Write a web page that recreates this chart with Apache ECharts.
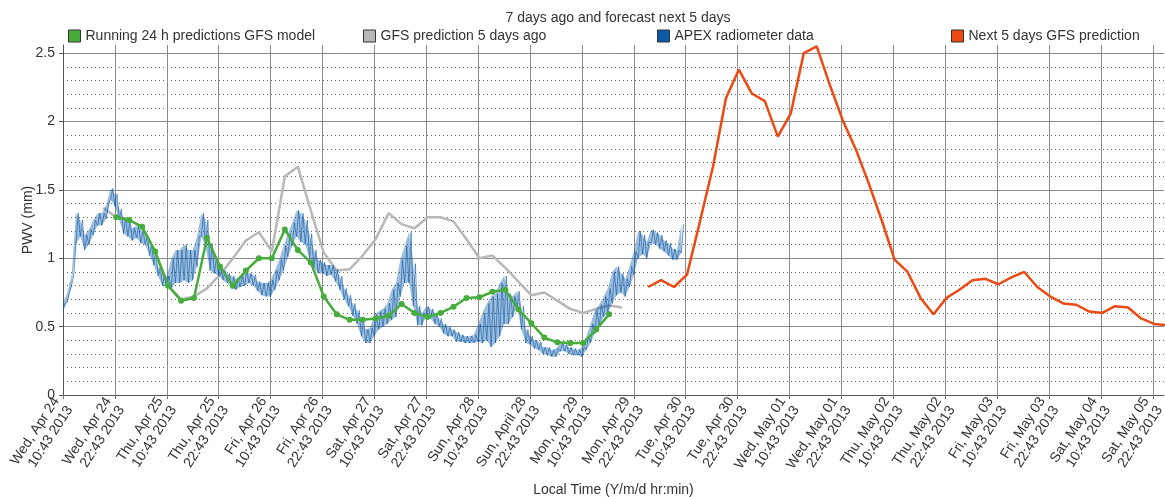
<!DOCTYPE html>
<html>
<head>
<meta charset="utf-8">
<title>PWV</title>
<script src="https://cdn.jsdelivr.net/npm/echarts@6.0.0/dist/echarts.min.js"></script>
<style>
  html, body { margin: 0; padding: 0; background: #fff; }
  #pwv { width: 1165px; height: 497px; }
</style>
</head>
<body>
<div id="pwv"></div>
<script>
// x values are hours since Wed Apr 24 10:43 2013
var xLabels = [
  'Wed, Apr 24\n10:43 2013', 'Wed, Apr 24\n22:43 2013',
  'Thu, Apr 25\n10:43 2013', 'Thu, Apr 25\n22:43 2013',
  'Fri, Apr 26\n10:43 2013', 'Fri, Apr 26\n22:43 2013',
  'Sat, Apr 27\n10:43 2013', 'Sat, Apr 27\n22:43 2013',
  'Sun, Apr 28\n10:43 2013', 'Sun, April 28\n22:43 2013',
  'Mon, Apr 29\n10:43 2013', 'Mon, Apr 29\n22:43 2013',
  'Tue, Apr 30\n10:43 2013', 'Tue, Apr 30\n22:43 2013',
  'Wed, May 01\n10:43 2013', 'Wed, May 01\n22:43 2013',
  'Thu, May 02\n10:43 2013', 'Thu, May 02\n22:43 2013',
  'Fri, May 03\n10:43 2013', 'Fri, May 03\n22:43 2013',
  'Sat, May 04\n10:43 2013', 'Sat, May 05\n22:43 2013'
]

// running 24 h predictions GFS model
var runHours = [12.3, 15.3, 18.3, 21.3, 24.3, 27.3, 30.3, 33.3, 36.3, 39.3,
  42.3, 45.3, 48.3, 51.3, 54.3, 57.3, 60.3, 63.3, 66.3, 69.3,
  72.3, 75.3, 78.3, 81.3, 84.3, 87.3, 90.3, 93.3, 96.3, 99.3,
  102.3, 105.3, 108.3, 111.3, 114.3, 117.3, 120.3, 123.3, 126.3]
var runPwv = [1.30, 1.28, 1.23, 1.05, 0.80, 0.69, 0.71, 1.15, 0.94, 0.80,
  0.91, 1.00, 1.00, 1.21, 1.06, 0.97, 0.72, 0.59, 0.55, 0.55,
  0.56, 0.58, 0.665, 0.60, 0.57, 0.60, 0.645, 0.71, 0.715, 0.755,
  0.77, 0.625, 0.525, 0.42, 0.385, 0.38, 0.38, 0.48, 0.59]

// GFS prediction made 5 days ago
var oldHours = [9.3, 12.3, 15.3, 18.3, 21.3, 24.3, 27.3, 30.3, 33.3, 36.3,
  39.3, 42.3, 45.3, 48.3, 51.3, 54.3, 57.3, 60.3, 63.3, 66.3,
  69.3, 72.3, 75.3, 78.3, 81.3, 84.3, 87.3, 90.3, 93.3, 96.3,
  99.3, 102.3, 105.3, 108.3, 111.3, 114.3, 117.3, 120.3, 123.3, 126.3, 129.3]
var oldPwv = [1.37, 1.30, 1.28, 1.23, 1.05, 0.80, 0.70, 0.72, 0.78, 0.88,
  1.00, 1.13, 1.19, 1.05, 1.60, 1.67, 1.35, 1.04, 0.91, 0.92,
  1.02, 1.14, 1.33, 1.25, 1.22, 1.30, 1.30, 1.27, 1.14, 1.00,
  1.02, 0.93, 0.83, 0.73, 0.75, 0.69, 0.63, 0.60, 0.63, 0.655, 0.64]

// APEX radiometer, hourly low / high of the scatter (hour = index)
var apexLow = [0.62, 0.68, 0.80, 1.10, 1.16, 1.06, 1.10, 1.17, 1.24, 1.24,
  1.29, 1.43, 1.38, 1.28, 1.18, 1.16, 1.13, 1.15, 1.11, 1.10,
  1.02, 0.95, 0.87, 0.80, 0.79, 0.77, 0.82, 0.82, 0.84, 0.82,
  0.84, 0.94, 1.16, 1.08, 0.91, 0.89, 0.87, 0.84, 0.82, 0.78,
  0.77, 0.79, 0.80, 0.82, 0.80, 0.76, 0.73, 0.72, 0.72, 0.77,
  0.84, 0.91, 1.01, 1.09, 1.16, 1.12, 1.10, 1.00, 0.93, 0.89,
  0.89, 0.87, 0.88, 0.83, 0.77, 0.70, 0.65, 0.58, 0.52, 0.43,
  0.38, 0.38, 0.43, 0.48, 0.50, 0.52, 0.55, 0.57, 0.72, 0.82,
  0.82, 0.65, 0.51, 0.51, 0.57, 0.56, 0.52, 0.50, 0.45, 0.43,
  0.43, 0.39, 0.39, 0.38, 0.38, 0.38, 0.39, 0.38, 0.40, 0.35,
  0.38, 0.43, 0.52, 0.52, 0.57, 0.65, 0.48, 0.38, 0.37, 0.34,
  0.33, 0.30, 0.29, 0.28, 0.28, 0.32, 0.32, 0.30, 0.29, 0.29,
  0.28, 0.33, 0.38, 0.45, 0.50, 0.57, 0.60, 0.67, 0.73, 0.75,
  0.72, 0.79, 0.88, 1.00, 1.03, 1.00, 1.11, 1.10, 1.07, 1.05,
  1.02, 0.99, 0.99, 1.04]
var apexHigh = [0.67, 0.75, 0.88, 1.33, 1.28, 1.17, 1.21, 1.28, 1.33, 1.33,
  1.39, 1.51, 1.47, 1.36, 1.30, 1.28, 1.22, 1.24, 1.21, 1.17,
  1.10, 1.05, 0.94, 0.88, 0.87, 0.99, 1.06, 1.06, 1.10, 1.06,
  1.06, 1.16, 1.33, 1.28, 1.11, 1.01, 0.95, 0.91, 0.89, 0.87,
  0.85, 0.87, 0.91, 0.89, 0.88, 0.83, 0.82, 0.82, 0.84, 0.91,
  0.99, 1.09, 1.18, 1.26, 1.35, 1.33, 1.28, 1.18, 1.06, 0.99,
  0.97, 0.95, 0.95, 0.92, 0.87, 0.78, 0.73, 0.67, 0.62, 0.55,
  0.48, 0.49, 0.59, 0.61, 0.63, 0.67, 0.77, 0.82, 0.99, 1.09,
  1.19, 0.96, 0.65, 0.60, 0.65, 0.63, 0.60, 0.56, 0.52, 0.50,
  0.48, 0.46, 0.44, 0.43, 0.43, 0.44, 0.52, 0.60, 0.67, 0.72,
  0.74, 0.82, 0.87, 0.74, 0.72, 0.76, 0.65, 0.48, 0.43, 0.40,
  0.39, 0.35, 0.35, 0.33, 0.34, 0.38, 0.37, 0.35, 0.34, 0.33,
  0.35, 0.43, 0.52, 0.62, 0.66, 0.72, 0.78, 0.90, 0.94, 0.89,
  0.85, 0.94, 1.05, 1.20, 1.17, 1.12, 1.21, 1.19, 1.17, 1.13,
  1.11, 1.07, 1.06, 1.25]

// next 5 days GFS prediction
var nextHours = [135.3, 138.3, 141.3, 144.3, 147.3, 150.3, 153.3, 156.3, 159.3, 162.3,
  165.3, 168.3, 171.3, 174.3, 177.3, 180.3, 183.3, 186.3, 189.3, 192.3,
  195.3, 198.3, 201.3, 204.3, 207.3, 210.3, 213.3, 216.3, 219.3, 222.3,
  225.3, 228.3, 231.3, 234.3, 237.3, 240.3, 243.3, 246.3, 249.3, 252.3, 255.3]
var nextPwv = [0.79, 0.84, 0.79, 0.88, 1.27, 1.67, 2.17, 2.38, 2.205, 2.15,
  1.89, 2.06, 2.50, 2.55, 2.27, 2.01, 1.80, 1.55, 1.28, 0.99,
  0.90, 0.71, 0.59, 0.71, 0.77, 0.84, 0.85, 0.81, 0.86, 0.90,
  0.79, 0.72, 0.67, 0.66, 0.61, 0.60, 0.65, 0.64, 0.56, 0.52, 0.51]

function pairs (xs, ys) {
  return xs.map(function (x, i) { return [x, ys[i]] })
}

// low and high of each hour joined as one jagged trace
var apexTrace = []
apexLow.forEach(function (lo, h) {
  apexTrace.push([h, lo])
  apexTrace.push([h + 0.5, apexHigh[h]])
})
var apexBand = apexLow.map(function (lo, h) { return [h, lo, apexHigh[h]] })

var blue = '#0b5aa8'
var txt = '#333'
var font = 'Liberation Sans, Arial, sans-serif'

function legendAt (left, name, color) {
  return {
    left: left,
    top: 24,
    icon: 'rect',
    itemWidth: 12,
    itemHeight: 12,
    selectedMode: false,
    itemStyle: { color: color, borderColor: '#333', borderWidth: 1 },
    textStyle: { color: txt, fontSize: 14, fontFamily: font },
    data: [name]
  }
}

var option = {
  animation: false,
  textStyle: { fontFamily: font },
  title: {
    text: '7 days ago and forecast next 5 days',
    left: 613,
    textAlign: 'center',
    top: 6,
    textStyle: { color: txt, fontSize: 14, fontWeight: 'normal', fontFamily: font }
  },
  legend: [
    legendAt(63, 'Running 24 h predictions GFS model', '#46ad3c'),
    legendAt(358, 'GFS prediction 5 days ago', '#b8b8b8'),
    legendAt(652, 'APEX radiometer data', blue),
    legendAt(946, 'Next 5 days GFS prediction', '#ec4a12')
  ],
  grid: { left: 63, right: 1, top: 45, bottom: 102, containLabel: false, outerBoundsMode: 'none' },
  xAxis: {
    type: 'value',
    min: 0,
    max: 254.6,
    interval: 12,
    name: 'Local Time (Y/m/d hr:min)',
    nameLocation: 'middle',
    nameGap: 88,
    nameMoveOverlap: false,
    nameTextStyle: { color: txt, fontSize: 14 },
    axisLine: { lineStyle: { color: '#555' } },
    axisTick: { length: 4, lineStyle: { color: '#777' } },
    axisLabel: {
      rotate: 57,
      margin: 8,
      color: txt,
      fontSize: 14,
      lineHeight: 16,
      showMaxLabel: false,
      formatter: function (v) {
        var i = v / 12
        if (Math.abs(i - Math.round(i)) > 1e-6) return ''
        return xLabels[Math.round(i)] || ''
      }
    },
    splitLine: { show: true, showMaxLine: false, lineStyle: { color: '#8a8a8a' } }
  },
  yAxis: {
    type: 'value',
    min: 0,
    max: 2.56,
    interval: 0.5,
    name: 'PWV (mm)',
    nameLocation: 'middle',
    nameGap: 28,
    nameMoveOverlap: false,
    nameTextStyle: { color: txt, fontSize: 14 },
    axisLine: { show: true, lineStyle: { color: '#555' } },
    axisTick: { show: true, length: 4, lineStyle: { color: '#555' } },
    axisLabel: {
      color: txt,
      fontSize: 14,
      showMaxLabel: false,
      formatter: function (v) {
        return Math.abs(v * 2 - Math.round(v * 2)) < 1e-6 ? String(v) : ''
      }
    },
    splitLine: { showMaxLine: false, lineStyle: { color: '#8a8a8a' } },
    minorTick: { show: false, splitNumber: 5 },
    minorSplitLine: { show: true, lineStyle: { color: '#666', type: [1, 3] } }
  },
  series: [
    {
      name: 'GFS prediction 5 days ago',
      type: 'line',
      data: pairs(oldHours, oldPwv),
      showSymbol: false,
      itemStyle: { color: '#b8b8b8' },
      lineStyle: { color: '#b8b8b8', width: 2.5 },
      z: 2
    },
    {
      // light fill between the low and high edge of the radiometer scatter
      name: 'APEX radiometer data',
      type: 'custom',
      data: apexBand,
      encode: { x: 0, y: [1, 2] },
      itemStyle: { color: blue },
      renderItem: function (params, api) {
        var i = params.dataIndex
        if (i >= apexBand.length - 1) return null
        var a = apexBand[i], b = apexBand[i + 1]
        return {
          type: 'polygon',
          shape: {
            points: [
              api.coord([a[0], a[1]]), api.coord([a[0], a[2]]),
              api.coord([b[0], b[2]]), api.coord([b[0], b[1]])
            ]
          },
          style: { fill: blue, opacity: 0.4 }
        }
      },
      z: 3
    },
    {
      name: 'APEX radiometer data',
      type: 'line',
      data: apexTrace,
      showSymbol: false,
      itemStyle: { color: blue },
      lineStyle: { color: blue, width: 0.7, opacity: 0.85 },
      z: 3
    },
    {
      name: 'Running 24 h predictions GFS model',
      type: 'line',
      data: pairs(runHours, runPwv),
      symbol: 'circle',
      symbolSize: 6,
      itemStyle: { color: '#46ad3c' },
      lineStyle: { color: '#46ad3c', width: 2.5 },
      z: 4
    },
    {
      name: 'Next 5 days GFS prediction',
      type: 'line',
      data: pairs(nextHours, nextPwv),
      showSymbol: false,
      itemStyle: { color: '#ec4a12' },
      lineStyle: { color: '#ec4a12', width: 2.5 },
      z: 5
    }
  ]
}

var myChart = echarts.init(document.getElementById('pwv'))
myChart.setOption(option)
window.onresize = myChart.resize
</script>
</body>
</html>
